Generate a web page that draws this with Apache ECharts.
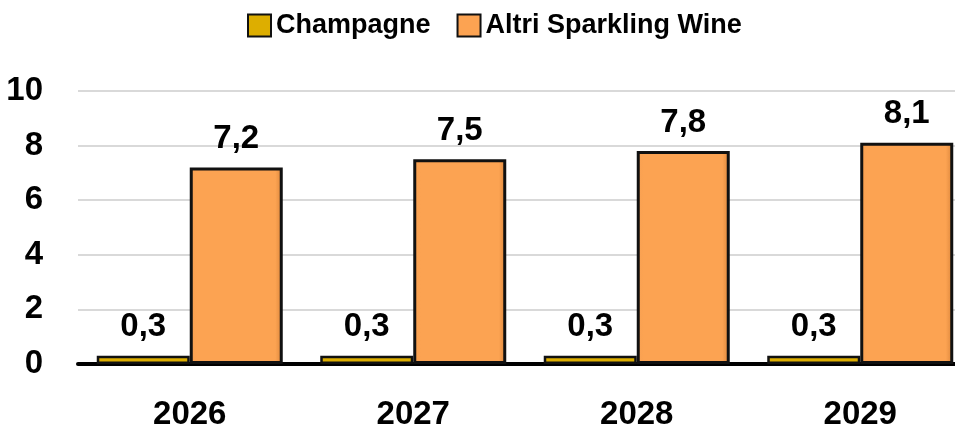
<!DOCTYPE html>
<html>
<head>
<meta charset="utf-8">
<script src="https://cdn.jsdelivr.net/npm/echarts@6/dist/echarts.min.js"></script>
<style>
  html, body { margin: 0; padding: 0; background: #fff; overflow: hidden; }
  /* il grafico originale è tagliato sul bordo destro */
  #chart { width: 972px; height: 431px; }
</style>
</head>
<body>
<div id="chart"></div>
<script>
// dati del grafico
const years = ['2026', '2027', '2028', '2029']
const champagne = [0.3, 0.3, 0.3, 0.3]
const altriSparkling = [7.2, 7.5, 7.8, 8.1]
const yTicks = { min: 0, max: 10, step: 2 }

const font = '"Liberation Sans", Arial, sans-serif'

const chart = echarts.init(document.getElementById('chart'))

const labelOpt = {
  show: true,
  position: 'top',
  distance: 12,
  fontFamily: font,
  fontWeight: 'bold',
  fontSize: 33,
  color: '#000',
  formatter: p => String(p.value).replace('.', ','),
}

chart.setOption({
  animation: false,
  backgroundColor: '#fff',
  legend: {
    left: 242,
    top: 7,
    itemWidth: 23,
    itemHeight: 22,
    itemGap: 26,
    icon: 'rect',
    textStyle: {
      fontFamily: font,
      fontWeight: 'bold',
      fontSize: 27,
      color: '#000',
    },
    data: ['Champagne', 'Altri Sparkling Wine'],
  },
  grid: {
    left: 78,
    top: 91,
    right: 0,
    height: 274,
  },
  xAxis: {
    type: 'category',
    data: years,
    axisLine: { lineStyle: { color: '#000', width: 4 } },
    axisTick: { show: false },
    axisLabel: {
      margin: 34,
      fontFamily: font,
      fontWeight: 'bold',
      fontSize: 33,
      color: '#000',
    },
  },
  yAxis: {
    type: 'value',
    min: yTicks.min,
    max: yTicks.max,
    interval: yTicks.step,
    axisLine: { show: false },
    axisTick: { show: false },
    splitLine: { lineStyle: { color: '#d9d9d9', width: 2 } },
    axisLabel: {
      margin: 35,
      fontFamily: font,
      fontWeight: 'bold',
      fontSize: 33,
      color: '#000',
    },
  },
  series: [
    {
      name: 'Champagne',
      type: 'bar',
      data: champagne,
      barWidth: 93,
      barGap: '0%',
      itemStyle: {
        color: '#DDAE00',
        borderColor: '#111',
        borderWidth: 2.5,
      },
      label: labelOpt,
    },
    {
      name: 'Altri Sparkling Wine',
      type: 'bar',
      data: altriSparkling,
      barWidth: 93,
      itemStyle: {
        color: new echarts.graphic.LinearGradient(0, 0, 1, 0, [
          { offset: 0, color: '#F7A051' },
          { offset: 0.08, color: '#FCA352' },
          { offset: 0.92, color: '#FCA352' },
          { offset: 1, color: '#D9843A' },
        ]),
        borderColor: '#111',
        borderWidth: 3,
      },
      label: labelOpt,
    },
  ],
})
</script>
</body>
</html>
